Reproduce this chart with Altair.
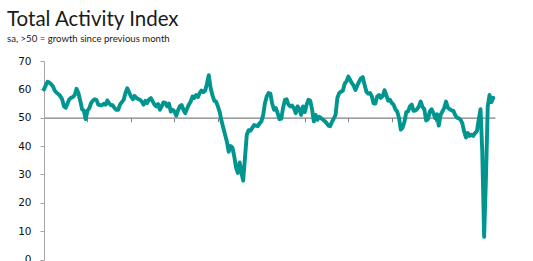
import altair as alt
import pandas as pd

start_month = "2000-01-01"

activity_index = [
    # 2000
    60.0, 61.5, 62.7, 62.4, 61.8, 61.0, 59.5, 58.8, 58.3, 57.6, 56.5, 54.0,
    # 2001
    53.5, 55.1, 56.5, 57.0, 57.3, 58.0, 60.2, 58.7, 56.0, 53.0, 52.5, 49.5,
    # 2002
    52.5, 53.4, 55.1, 56.0, 56.5, 56.3, 54.6, 54.4, 54.4, 54.9, 54.6, 56.1,
    # 2003
    55.0, 54.4, 54.4, 53.4, 52.8, 52.8, 54.6, 55.5, 56.3, 58.7, 60.4, 59.0,
    # 2004
    57.5, 56.5, 57.7, 57.0, 56.6, 56.3, 55.7, 54.6, 56.0, 55.2, 56.5, 56.9,
    # 2005
    55.7, 54.6, 54.0, 54.8, 52.8, 54.0, 55.4, 55.2, 54.0, 55.0, 52.2, 52.8,
    # 2006
    52.2, 50.7, 52.5, 54.0, 54.5, 52.8, 51.6, 53.2, 54.6, 55.7, 57.5, 57.0,
    # 2007
    58.0, 57.3, 58.7, 59.6, 59.0, 59.5, 62.0, 65.0, 60.5, 58.0, 56.0, 55.7,
    # 2008
    54.0, 52.0, 49.0, 46.5, 44.0, 41.5, 38.0, 40.0, 39.5, 36.5, 32.5, 30.5,
    # 2009
    34.2, 30.5, 27.8, 36.0, 44.0, 45.6, 45.4, 46.4, 47.4, 47.2, 47.0, 48.0,
    # 2010
    48.7, 51.0, 55.0, 57.5, 58.7, 58.5, 55.0, 52.8, 53.4, 51.6, 49.5, 49.7,
    # 2011
    53.5, 56.3, 56.5, 54.6, 54.0, 54.3, 53.4, 51.6, 54.0, 53.0, 51.0, 54.0,
    # 2012
    52.0, 54.6, 56.3, 56.0, 53.0, 48.7, 51.0, 49.3, 50.3, 49.8, 49.3, 48.8,
    # 2013
    48.1, 47.2, 47.0, 48.5, 49.7, 51.0, 57.0, 58.7, 59.2, 59.5, 62.0, 62.8,
    # 2014
    64.5, 63.3, 62.2, 61.3, 59.8, 61.4, 62.7, 63.9, 64.3, 61.6, 59.2, 58.5,
    # 2015
    58.7, 57.5, 55.1, 55.0, 57.5, 58.0, 57.0, 57.6, 59.7, 58.0, 56.0, 56.3,
    # 2016
    55.2, 54.6, 53.0, 52.2, 50.0, 45.8, 46.5, 48.5, 52.0, 52.2, 54.0, 54.6,
    # 2017
    52.4, 52.5, 53.0, 54.0, 55.7, 53.8, 53.0, 49.0, 49.5, 52.2, 53.0, 51.6,
    # 2018
    49.8, 51.2, 47.2, 51.0, 52.2, 53.5, 55.7, 53.5, 53.0, 52.6, 52.4, 51.0,
    # 2019
    50.0, 49.8, 49.3, 48.0, 45.2, 43.0, 44.6, 43.6, 44.0, 43.6, 44.6, 45.2,
    # 2020
    49.3, 53.0, 38.0, 8.0, 28.0, 54.0, 58.0, 55.5, 57.0,
]

y_ticks = [0, 10, 20, 30, 40, 50, 60, 70]
x_tick_years = [2000, 2002, 2004, 2006, 2008, 2010, 2012, 2014, 2016, 2018, 2020]

df = pd.DataFrame({
    "month": pd.date_range(start_month, periods=len(activity_index), freq="MS"),
    "value": activity_index,
})

line = alt.Chart(df).mark_line(
    color="#00968f", strokeWidth=3.9, strokeJoin="round", strokeCap="round"
).encode(
    x=alt.X(
        "month:T",
        scale=alt.Scale(domain=[alt.DateTime(year=2000, month=1, date=1),
                                alt.DateTime(year=2020, month=10, date=1)]),
        axis=alt.Axis(
            title=None, labels=False, grid=False,
            values=[alt.DateTime(year=y, month=1, date=1) for y in x_tick_years],
            offset=-141.8, domainColor="#808080", tickColor="#808080",
            tickSize=4, domainWidth=1.2,
        ),
    ),
    y=alt.Y(
        "value:Q",
        scale=alt.Scale(domain=[0, 70], nice=False),
        axis=alt.Axis(
            title=None, values=y_ticks, grid=False,
            domainColor="#a6a6a6", tickColor="#a6a6a6", tickSize=4,
            labelFont="DejaVu Sans", labelFontSize=10.5, labelColor="#111111",
            labelPadding=9,
        ),
    ),
)

chart = line.properties(
    width=451,
    height=198.5,
    title=alt.TitleParams(
        text="Total Activity Index",
        subtitle="sa, >50 = growth since previous month",
        anchor="start", frame="group", dx=-37, offset=12,
        font="Lato", fontSize=20.5, fontWeight="normal", color="#1a1a1a",
        subtitleFont="Lato", subtitleFontSize=9.6, subtitleColor="#1a1a1a",
        subtitlePadding=4,
    ),
    autosize=alt.AutoSizeParams(type="none"),
    padding={"left": 44, "top": 61, "right": 38, "bottom": 1.5},
).configure_view(stroke=None)

chart.save("out.html", embed_options={"renderer": "svg", "actions": False})
